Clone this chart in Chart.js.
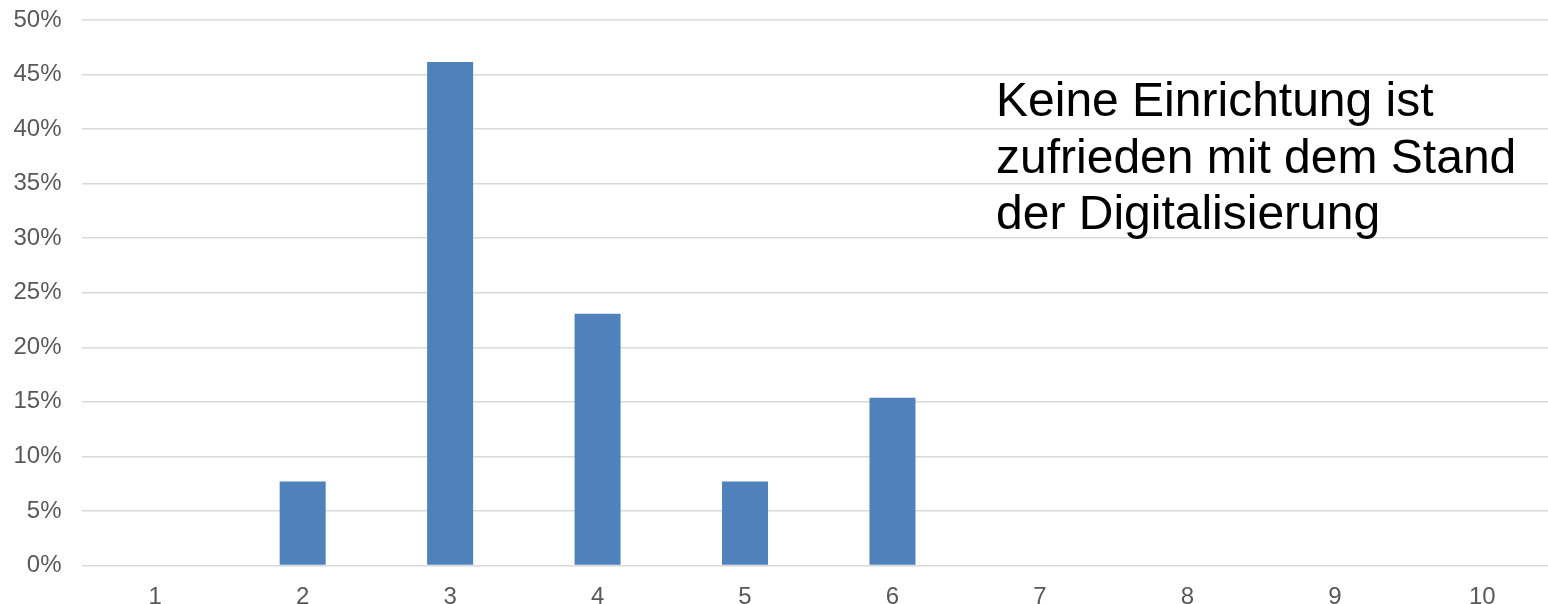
<!DOCTYPE html>
<html lang="de">
<head>
<meta charset="utf-8">
<script src="https://cdn.jsdelivr.net/npm/chart.js@4"></script>
<style>
  html, body { margin: 0; padding: 0; background: #ffffff; overflow: hidden; }
  #wrap { position: relative; width: 1548px; height: 604px; overflow: hidden; }
  #chart { position: absolute; left: 0; top: 0; }
  #note {
    position: absolute; left: 996px; top: 72px;
    font-family: "Liberation Sans", Arial, sans-serif;
    font-size: 48px; line-height: 56.5px; color: #000000;
    white-space: nowrap;
  }
</style>
</head>
<body>
<div id="wrap">
  <canvas id="chart" width="1556" height="604"></canvas>
  <div id="note">Keine Einrichtung ist<br>zufrieden mit dem Stand<br>der Digitalisierung</div>
</div>
<script>
// Rating scale 1–10 and the share of answers (in percent) for each rating
const ratings = ['1', '2', '3', '4', '5', '6', '7', '8', '9', '10'];
const shares = [0, 7.69, 46.15, 23.08, 7.69, 15.38, 0, 0, 0, 0];
const yTicks = [0, 5, 10, 15, 20, 25, 30, 35, 40, 45, 50];

const tickFont = { family: '"Liberation Sans", Arial, sans-serif', size: 24 };

new Chart(document.getElementById('chart'), {
  type: 'bar',
  data: {
    labels: ratings,
    datasets: [{
      data: shares,
      backgroundColor: '#4F81BD',
      borderWidth: 0,
      categoryPercentage: 1,
      barPercentage: 0.312
    }]
  },
  options: {
    responsive: false,
    animation: false,
    layout: { padding: { top: 20, right: 0, bottom: 0, left: 0 } },
    plugins: { legend: { display: false }, tooltip: { enabled: false } },
    scales: {
      x: {
        grid: { display: false, drawTicks: false },
        border: { display: false },
        ticks: { color: '#595959', font: tickFont, padding: 17, maxRotation: 0 },
        afterFit(scale) {
          scale.height = 38.5;
          scale.paddingLeft = 0;
          scale.paddingRight = 0;
        }
      },
      y: {
        min: 0,
        max: 50,
        afterBuildTicks(scale) { scale.ticks = yTicks.map(v => ({ value: v })); },
        grid: { color: '#d9d9d9', lineWidth: 1.5, drawTicks: false },
        border: { display: false },
        ticks: {
          color: '#595959', font: tickFont, padding: 20,
          callback: v => v + '%'
        },
        afterFit(scale) {
          scale.width = 81.5;
          scale.paddingTop = 0;
          scale.paddingBottom = 0;
        }
      }
    }
  }
});
</script>
</body>
</html>
